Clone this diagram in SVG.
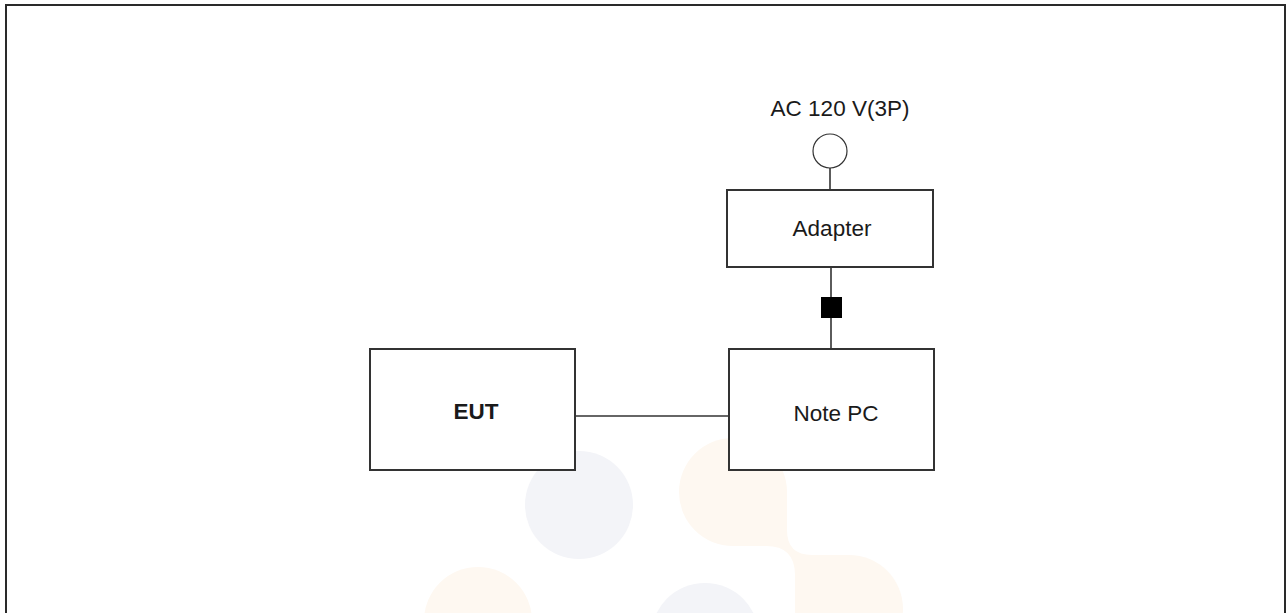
<svg xmlns="http://www.w3.org/2000/svg" width="1287" height="613" viewBox="0 0 1287 613">
<style>
.box{fill:#fff;stroke:#333;stroke-width:2}
.wire{stroke:#333;stroke-width:1.6;fill:none}
.lbl{font-family:"Liberation Sans",Arial,sans-serif;font-size:22.5px;fill:#1a1a1a;text-anchor:middle}
.wm-g{fill:#f3f4f8}
.wm-p{fill:#fef8f1}
</style>
<rect x="0" y="0" width="1287" height="613" fill="#fff"/>
<g id="watermark">
<circle class="wm-g" cx="579" cy="505" r="54"/>
<circle class="wm-p" cx="733" cy="492" r="54"/>
<circle class="wm-p" cx="849" cy="609" r="54"/>
<path class="wm-p" d="M733,492 L787,492 L787,530 Q787,555 812,555 L849,555 L849,609 L795,609 L795,575 Q795,546 766,546 L733,546 Z"/>
<circle class="wm-p" cx="478" cy="621" r="54"/>
<circle class="wm-g" cx="705" cy="637" r="54"/>
</g>
<rect x="6" y="5" width="1279" height="630" fill="none" stroke="#2a2a2a" stroke-width="2"/>
<g id="connectors">
<line class="wire" x1="830" y1="168" x2="830" y2="190"/>
<line class="wire" x1="831" y1="267" x2="831" y2="349"/>
<rect x="821" y="297" width="21" height="21" fill="#000"/>
<line class="wire" x1="575" y1="416" x2="729" y2="416"/>
</g>
<g id="ac">
<circle cx="830" cy="151" r="17" fill="#fff" stroke="#333" stroke-width="1.2"/>
<text class="lbl" x="840" y="116">AC 120 V(3P)</text>
</g>
<g id="adapter">
<rect class="box" x="727" y="190" width="206" height="77"/>
<text class="lbl" x="832" y="236">Adapter</text>
</g>
<g id="eut">
<rect class="box" x="370" y="349" width="205" height="121"/>
<text class="lbl" x="476" y="419" style="font-weight:bold">EUT</text>
</g>
<g id="notepc">
<rect class="box" x="729" y="349" width="205" height="121"/>
<text class="lbl" x="836" y="421">Note PC</text>
</g>
</svg>
